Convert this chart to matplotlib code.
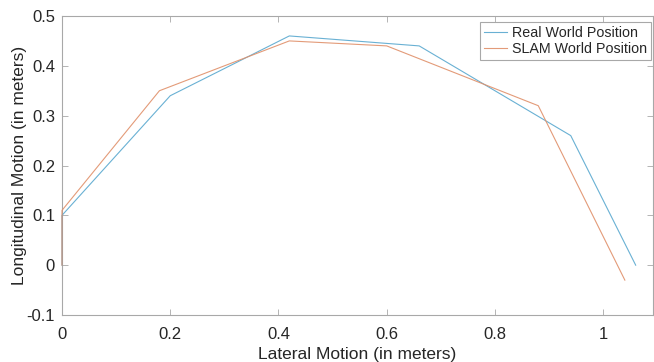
import matplotlib.pyplot as plt

plt.rcParams["font.family"] = ["Liberation Sans", "DejaVu Sans"]

real_x = [0, 0, 0.2, 0.42, 0.66, 0.94, 1.06]
real_y = [0, 0.10, 0.34, 0.46, 0.44, 0.26, 0.0]

slam_x = [0, 0, 0.18, 0.42, 0.60, 0.88, 1.04]
slam_y = [0, 0.11, 0.35, 0.45, 0.44, 0.32, -0.03]

xticks = [0, 0.2, 0.4, 0.6, 0.8, 1]
yticks = [-0.1, 0, 0.1, 0.2, 0.3, 0.4, 0.5]

fig = plt.figure(figsize=(6.54, 3.62), dpi=100)
ax = fig.add_axes([62 / 654, 47 / 362, 591 / 654, 299 / 362])

ax.plot(real_x, real_y, color="#4fa3cc", lw=0.8, alpha=0.85, zorder=3,
        clip_on=False, label="Real World Position")
ax.plot(slam_x, slam_y, color="#e0906a", lw=0.8, alpha=0.9, zorder=3,
        clip_on=False, label="SLAM World Position")

ax.set_xlim(0, 1.092)
ax.set_ylim(-0.1, 0.5)
ax.set_xticks(xticks)
ax.set_xticklabels([f"{t:g}" for t in xticks])
ax.set_yticks(yticks)
ax.set_yticklabels([f"{t:g}" for t in yticks])

for s in ax.spines.values():
    s.set_color("#a8a8a8")
    s.set_linewidth(0.8)
ax.tick_params(direction="in", length=4, width=0.6, color="#a8a8a8",
               labelsize=12, labelcolor="#262626", top=True, right=True, pad=5)
ax.tick_params(axis="x", pad=8.5)

ax.set_xlabel("Lateral Motion (in meters)", fontsize=12.5, color="#262626", labelpad=3.5)
ax.set_ylabel("Longitudinal Motion (in meters)", fontsize=12.5, color="#262626", labelpad=0)

leg = ax.legend(loc="upper right", bbox_to_anchor=(651 / 654, 1 - 22 / 362),
                bbox_transform=fig.transFigure, borderaxespad=0,
                fontsize=10.3, handlelength=1.6, handletextpad=0.3,
                borderpad=0.3, labelspacing=0.1, fancybox=False, framealpha=1)
leg.get_frame().set_edgecolor("#a8a8a8")
leg.get_frame().set_linewidth(0.8)
for t in leg.get_texts():
    t.set_color("#262626")

fig.savefig("out.png", dpi=100)
